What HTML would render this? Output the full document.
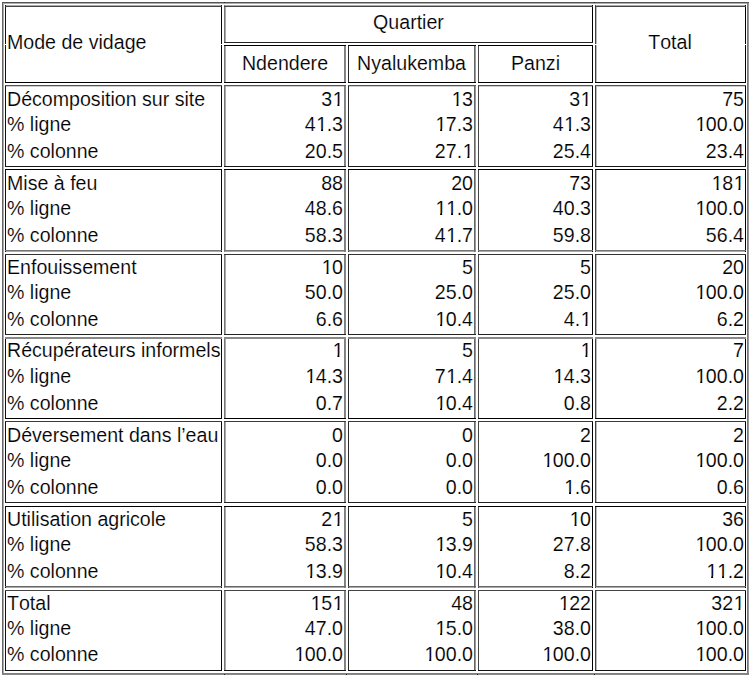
<!DOCTYPE html>
<html><head><meta charset="utf-8"><style>
html,body{margin:0;padding:0;background:#fff;width:750px;height:676px;overflow:hidden;position:relative}
.l{position:absolute}
.t{position:absolute;font-family:"Liberation Sans",sans-serif;font-size:19.6px;line-height:normal;color:#000;white-space:pre;font-kerning:none;-webkit-text-stroke:0.15px #fff}
.c{width:300px;text-align:center}
.one{position:relative;color:transparent}
.one::before{content:'1';position:absolute;left:0.03em;top:0;color:#000;clip-path:polygon(0 0,100% 0,100% 0.79em,0.345em 0.79em,0.345em 100%,0.24em 100%,0.24em 0.79em,0 0.79em)}
</style></head><body>
<div class="l" style="left:2px;top:3px;width:747px;height:1px;background:#aaa"></div>
<div class="l" style="left:5px;top:5px;width:217px;height:1px;background:#aaa"></div>
<div class="l" style="left:224px;top:5px;width:369px;height:1px;background:#aaa"></div>
<div class="l" style="left:595px;top:5px;width:151px;height:1px;background:#aaa"></div>
<div class="l" style="left:5px;top:86px;width:217px;height:1px;background:#ccc"></div>
<div class="l" style="left:224px;top:86px;width:122px;height:1px;background:#ccc"></div>
<div class="l" style="left:348px;top:86px;width:128px;height:1px;background:#ccc"></div>
<div class="l" style="left:478px;top:86px;width:115px;height:1px;background:#ccc"></div>
<div class="l" style="left:595px;top:86px;width:151px;height:1px;background:#ccc"></div>
<div class="l" style="left:5px;top:251px;width:217px;height:1px;background:#aaa"></div>
<div class="l" style="left:224px;top:251px;width:122px;height:1px;background:#aaa"></div>
<div class="l" style="left:348px;top:251px;width:128px;height:1px;background:#aaa"></div>
<div class="l" style="left:478px;top:251px;width:115px;height:1px;background:#aaa"></div>
<div class="l" style="left:595px;top:251px;width:151px;height:1px;background:#aaa"></div>
<div class="l" style="left:5px;top:587px;width:217px;height:1px;background:#aaa"></div>
<div class="l" style="left:224px;top:587px;width:122px;height:1px;background:#aaa"></div>
<div class="l" style="left:348px;top:587px;width:128px;height:1px;background:#aaa"></div>
<div class="l" style="left:478px;top:587px;width:115px;height:1px;background:#aaa"></div>
<div class="l" style="left:595px;top:587px;width:151px;height:1px;background:#aaa"></div>
<div class="l" style="left:3px;top:2px;width:1px;height:673px;background:#aaa"></div>
<div class="l" style="left:748px;top:2px;width:1px;height:673px;background:#999"></div>
<div class="l" style="left:225px;top:5px;width:1px;height:38px;background:#aaa"></div>
<div class="l" style="left:225px;top:45px;width:1px;height:38px;background:#aaa"></div>
<div class="l" style="left:475px;top:45px;width:1px;height:38px;background:#999"></div>
<div class="l" style="left:596px;top:5px;width:1px;height:78px;background:#bbb"></div>
<div class="l" style="left:225px;top:85px;width:1px;height:82px;background:#aaa"></div>
<div class="l" style="left:475px;top:85px;width:1px;height:82px;background:#999"></div>
<div class="l" style="left:596px;top:85px;width:1px;height:82px;background:#bbb"></div>
<div class="l" style="left:225px;top:169px;width:1px;height:83px;background:#aaa"></div>
<div class="l" style="left:475px;top:169px;width:1px;height:83px;background:#999"></div>
<div class="l" style="left:596px;top:169px;width:1px;height:83px;background:#bbb"></div>
<div class="l" style="left:225px;top:254px;width:1px;height:81px;background:#aaa"></div>
<div class="l" style="left:475px;top:254px;width:1px;height:81px;background:#999"></div>
<div class="l" style="left:596px;top:254px;width:1px;height:81px;background:#bbb"></div>
<div class="l" style="left:225px;top:337px;width:1px;height:82px;background:#aaa"></div>
<div class="l" style="left:475px;top:337px;width:1px;height:82px;background:#999"></div>
<div class="l" style="left:596px;top:337px;width:1px;height:82px;background:#bbb"></div>
<div class="l" style="left:225px;top:421px;width:1px;height:82px;background:#aaa"></div>
<div class="l" style="left:475px;top:421px;width:1px;height:82px;background:#999"></div>
<div class="l" style="left:596px;top:421px;width:1px;height:82px;background:#bbb"></div>
<div class="l" style="left:225px;top:506px;width:1px;height:82px;background:#aaa"></div>
<div class="l" style="left:475px;top:506px;width:1px;height:82px;background:#999"></div>
<div class="l" style="left:596px;top:506px;width:1px;height:82px;background:#bbb"></div>
<div class="l" style="left:225px;top:590px;width:1px;height:81px;background:#aaa"></div>
<div class="l" style="left:475px;top:590px;width:1px;height:81px;background:#999"></div>
<div class="l" style="left:596px;top:590px;width:1px;height:81px;background:#bbb"></div>
<div class="l" style="left:2px;top:2px;width:1px;height:673px;background:#666"></div>
<div class="l" style="left:747px;top:2px;width:1px;height:673px;background:#777"></div>
<div class="l" style="left:5px;top:5px;width:1px;height:78px;background:#111"></div>
<div class="l" style="left:221px;top:5px;width:1px;height:78px;background:#080808"></div>
<div class="l" style="left:224px;top:5px;width:1px;height:38px;background:#777"></div>
<div class="l" style="left:592px;top:5px;width:1px;height:38px;background:#000"></div>
<div class="l" style="left:224px;top:45px;width:1px;height:38px;background:#777"></div>
<div class="l" style="left:344px;top:45px;width:1px;height:38px;background:#808080"></div>
<div class="l" style="left:345px;top:45px;width:1px;height:38px;background:#888"></div>
<div class="l" style="left:348px;top:45px;width:1px;height:38px;background:#2a2a2a"></div>
<div class="l" style="left:474px;top:45px;width:1px;height:38px;background:#666"></div>
<div class="l" style="left:478px;top:45px;width:1px;height:38px;background:#444"></div>
<div class="l" style="left:592px;top:45px;width:1px;height:38px;background:#000"></div>
<div class="l" style="left:595px;top:5px;width:1px;height:78px;background:#444"></div>
<div class="l" style="left:745px;top:5px;width:1px;height:78px;background:#000"></div>
<div class="l" style="left:5px;top:85px;width:1px;height:82px;background:#111"></div>
<div class="l" style="left:221px;top:85px;width:1px;height:82px;background:#080808"></div>
<div class="l" style="left:224px;top:85px;width:1px;height:82px;background:#777"></div>
<div class="l" style="left:344px;top:85px;width:1px;height:82px;background:#808080"></div>
<div class="l" style="left:345px;top:85px;width:1px;height:82px;background:#888"></div>
<div class="l" style="left:348px;top:85px;width:1px;height:82px;background:#2a2a2a"></div>
<div class="l" style="left:474px;top:85px;width:1px;height:82px;background:#666"></div>
<div class="l" style="left:478px;top:85px;width:1px;height:82px;background:#444"></div>
<div class="l" style="left:592px;top:85px;width:1px;height:82px;background:#000"></div>
<div class="l" style="left:595px;top:85px;width:1px;height:82px;background:#444"></div>
<div class="l" style="left:745px;top:85px;width:1px;height:82px;background:#000"></div>
<div class="l" style="left:5px;top:169px;width:1px;height:83px;background:#111"></div>
<div class="l" style="left:221px;top:169px;width:1px;height:83px;background:#080808"></div>
<div class="l" style="left:224px;top:169px;width:1px;height:83px;background:#777"></div>
<div class="l" style="left:344px;top:169px;width:1px;height:83px;background:#808080"></div>
<div class="l" style="left:345px;top:169px;width:1px;height:83px;background:#888"></div>
<div class="l" style="left:348px;top:169px;width:1px;height:83px;background:#2a2a2a"></div>
<div class="l" style="left:474px;top:169px;width:1px;height:83px;background:#666"></div>
<div class="l" style="left:478px;top:169px;width:1px;height:83px;background:#444"></div>
<div class="l" style="left:592px;top:169px;width:1px;height:83px;background:#000"></div>
<div class="l" style="left:595px;top:169px;width:1px;height:83px;background:#444"></div>
<div class="l" style="left:745px;top:169px;width:1px;height:83px;background:#000"></div>
<div class="l" style="left:5px;top:254px;width:1px;height:81px;background:#111"></div>
<div class="l" style="left:221px;top:254px;width:1px;height:81px;background:#080808"></div>
<div class="l" style="left:224px;top:254px;width:1px;height:81px;background:#777"></div>
<div class="l" style="left:344px;top:254px;width:1px;height:81px;background:#808080"></div>
<div class="l" style="left:345px;top:254px;width:1px;height:81px;background:#888"></div>
<div class="l" style="left:348px;top:254px;width:1px;height:81px;background:#2a2a2a"></div>
<div class="l" style="left:474px;top:254px;width:1px;height:81px;background:#666"></div>
<div class="l" style="left:478px;top:254px;width:1px;height:81px;background:#444"></div>
<div class="l" style="left:592px;top:254px;width:1px;height:81px;background:#000"></div>
<div class="l" style="left:595px;top:254px;width:1px;height:81px;background:#444"></div>
<div class="l" style="left:745px;top:254px;width:1px;height:81px;background:#000"></div>
<div class="l" style="left:5px;top:337px;width:1px;height:82px;background:#111"></div>
<div class="l" style="left:221px;top:337px;width:1px;height:82px;background:#080808"></div>
<div class="l" style="left:224px;top:337px;width:1px;height:82px;background:#777"></div>
<div class="l" style="left:344px;top:337px;width:1px;height:82px;background:#808080"></div>
<div class="l" style="left:345px;top:337px;width:1px;height:82px;background:#888"></div>
<div class="l" style="left:348px;top:337px;width:1px;height:82px;background:#2a2a2a"></div>
<div class="l" style="left:474px;top:337px;width:1px;height:82px;background:#666"></div>
<div class="l" style="left:478px;top:337px;width:1px;height:82px;background:#444"></div>
<div class="l" style="left:592px;top:337px;width:1px;height:82px;background:#000"></div>
<div class="l" style="left:595px;top:337px;width:1px;height:82px;background:#444"></div>
<div class="l" style="left:745px;top:337px;width:1px;height:82px;background:#000"></div>
<div class="l" style="left:5px;top:421px;width:1px;height:82px;background:#111"></div>
<div class="l" style="left:221px;top:421px;width:1px;height:82px;background:#080808"></div>
<div class="l" style="left:224px;top:421px;width:1px;height:82px;background:#777"></div>
<div class="l" style="left:344px;top:421px;width:1px;height:82px;background:#808080"></div>
<div class="l" style="left:345px;top:421px;width:1px;height:82px;background:#888"></div>
<div class="l" style="left:348px;top:421px;width:1px;height:82px;background:#2a2a2a"></div>
<div class="l" style="left:474px;top:421px;width:1px;height:82px;background:#666"></div>
<div class="l" style="left:478px;top:421px;width:1px;height:82px;background:#444"></div>
<div class="l" style="left:592px;top:421px;width:1px;height:82px;background:#000"></div>
<div class="l" style="left:595px;top:421px;width:1px;height:82px;background:#444"></div>
<div class="l" style="left:745px;top:421px;width:1px;height:82px;background:#000"></div>
<div class="l" style="left:5px;top:506px;width:1px;height:82px;background:#111"></div>
<div class="l" style="left:221px;top:506px;width:1px;height:82px;background:#080808"></div>
<div class="l" style="left:224px;top:506px;width:1px;height:82px;background:#777"></div>
<div class="l" style="left:344px;top:506px;width:1px;height:82px;background:#808080"></div>
<div class="l" style="left:345px;top:506px;width:1px;height:82px;background:#888"></div>
<div class="l" style="left:348px;top:506px;width:1px;height:82px;background:#2a2a2a"></div>
<div class="l" style="left:474px;top:506px;width:1px;height:82px;background:#666"></div>
<div class="l" style="left:478px;top:506px;width:1px;height:82px;background:#444"></div>
<div class="l" style="left:592px;top:506px;width:1px;height:82px;background:#000"></div>
<div class="l" style="left:595px;top:506px;width:1px;height:82px;background:#444"></div>
<div class="l" style="left:745px;top:506px;width:1px;height:82px;background:#000"></div>
<div class="l" style="left:5px;top:590px;width:1px;height:81px;background:#111"></div>
<div class="l" style="left:221px;top:590px;width:1px;height:81px;background:#080808"></div>
<div class="l" style="left:224px;top:590px;width:1px;height:81px;background:#777"></div>
<div class="l" style="left:344px;top:590px;width:1px;height:81px;background:#808080"></div>
<div class="l" style="left:345px;top:590px;width:1px;height:81px;background:#888"></div>
<div class="l" style="left:348px;top:590px;width:1px;height:81px;background:#2a2a2a"></div>
<div class="l" style="left:474px;top:590px;width:1px;height:81px;background:#666"></div>
<div class="l" style="left:478px;top:590px;width:1px;height:81px;background:#444"></div>
<div class="l" style="left:592px;top:590px;width:1px;height:81px;background:#000"></div>
<div class="l" style="left:595px;top:590px;width:1px;height:81px;background:#444"></div>
<div class="l" style="left:745px;top:590px;width:1px;height:81px;background:#000"></div>
<div class="l" style="left:2px;top:2px;width:747px;height:1px;background:#555"></div>
<div class="l" style="left:2px;top:673px;width:747px;height:1px;background:#808080"></div>
<div class="l" style="left:2px;top:674px;width:747px;height:1px;background:#888"></div>
<div class="l" style="left:5px;top:6px;width:217px;height:1px;background:#444"></div>
<div class="l" style="left:5px;top:82px;width:217px;height:1px;background:#000"></div>
<div class="l" style="left:224px;top:6px;width:369px;height:1px;background:#444"></div>
<div class="l" style="left:224px;top:42px;width:369px;height:1px;background:#222"></div>
<div class="l" style="left:224px;top:45px;width:122px;height:1px;background:#000"></div>
<div class="l" style="left:224px;top:82px;width:122px;height:1px;background:#000"></div>
<div class="l" style="left:348px;top:45px;width:128px;height:1px;background:#000"></div>
<div class="l" style="left:348px;top:82px;width:128px;height:1px;background:#000"></div>
<div class="l" style="left:478px;top:45px;width:115px;height:1px;background:#000"></div>
<div class="l" style="left:478px;top:82px;width:115px;height:1px;background:#000"></div>
<div class="l" style="left:595px;top:6px;width:151px;height:1px;background:#444"></div>
<div class="l" style="left:595px;top:82px;width:151px;height:1px;background:#000"></div>
<div class="l" style="left:5px;top:85px;width:217px;height:1px;background:#555"></div>
<div class="l" style="left:5px;top:166px;width:217px;height:1px;background:#181818"></div>
<div class="l" style="left:224px;top:85px;width:122px;height:1px;background:#555"></div>
<div class="l" style="left:224px;top:166px;width:122px;height:1px;background:#181818"></div>
<div class="l" style="left:348px;top:85px;width:128px;height:1px;background:#555"></div>
<div class="l" style="left:348px;top:166px;width:128px;height:1px;background:#181818"></div>
<div class="l" style="left:478px;top:85px;width:115px;height:1px;background:#555"></div>
<div class="l" style="left:478px;top:166px;width:115px;height:1px;background:#181818"></div>
<div class="l" style="left:595px;top:85px;width:151px;height:1px;background:#555"></div>
<div class="l" style="left:595px;top:166px;width:151px;height:1px;background:#181818"></div>
<div class="l" style="left:5px;top:169px;width:217px;height:1px;background:#000"></div>
<div class="l" style="left:5px;top:250px;width:217px;height:1px;background:#777"></div>
<div class="l" style="left:224px;top:169px;width:122px;height:1px;background:#000"></div>
<div class="l" style="left:224px;top:250px;width:122px;height:1px;background:#777"></div>
<div class="l" style="left:348px;top:169px;width:128px;height:1px;background:#000"></div>
<div class="l" style="left:348px;top:250px;width:128px;height:1px;background:#777"></div>
<div class="l" style="left:478px;top:169px;width:115px;height:1px;background:#000"></div>
<div class="l" style="left:478px;top:250px;width:115px;height:1px;background:#777"></div>
<div class="l" style="left:595px;top:169px;width:151px;height:1px;background:#000"></div>
<div class="l" style="left:595px;top:250px;width:151px;height:1px;background:#777"></div>
<div class="l" style="left:5px;top:254px;width:217px;height:1px;background:#333"></div>
<div class="l" style="left:5px;top:334px;width:217px;height:1px;background:#222"></div>
<div class="l" style="left:224px;top:254px;width:122px;height:1px;background:#333"></div>
<div class="l" style="left:224px;top:334px;width:122px;height:1px;background:#222"></div>
<div class="l" style="left:348px;top:254px;width:128px;height:1px;background:#333"></div>
<div class="l" style="left:348px;top:334px;width:128px;height:1px;background:#222"></div>
<div class="l" style="left:478px;top:254px;width:115px;height:1px;background:#333"></div>
<div class="l" style="left:478px;top:334px;width:115px;height:1px;background:#222"></div>
<div class="l" style="left:595px;top:254px;width:151px;height:1px;background:#333"></div>
<div class="l" style="left:595px;top:334px;width:151px;height:1px;background:#222"></div>
<div class="l" style="left:5px;top:337px;width:217px;height:1px;background:#888"></div>
<div class="l" style="left:5px;top:338px;width:217px;height:1px;background:#888"></div>
<div class="l" style="left:5px;top:418px;width:217px;height:1px;background:#000"></div>
<div class="l" style="left:224px;top:337px;width:122px;height:1px;background:#888"></div>
<div class="l" style="left:224px;top:338px;width:122px;height:1px;background:#888"></div>
<div class="l" style="left:224px;top:418px;width:122px;height:1px;background:#000"></div>
<div class="l" style="left:348px;top:337px;width:128px;height:1px;background:#888"></div>
<div class="l" style="left:348px;top:338px;width:128px;height:1px;background:#888"></div>
<div class="l" style="left:348px;top:418px;width:128px;height:1px;background:#000"></div>
<div class="l" style="left:478px;top:337px;width:115px;height:1px;background:#888"></div>
<div class="l" style="left:478px;top:338px;width:115px;height:1px;background:#888"></div>
<div class="l" style="left:478px;top:418px;width:115px;height:1px;background:#000"></div>
<div class="l" style="left:595px;top:337px;width:151px;height:1px;background:#888"></div>
<div class="l" style="left:595px;top:338px;width:151px;height:1px;background:#888"></div>
<div class="l" style="left:595px;top:418px;width:151px;height:1px;background:#000"></div>
<div class="l" style="left:5px;top:421px;width:217px;height:1px;background:#3a3a3a"></div>
<div class="l" style="left:5px;top:502px;width:217px;height:1px;background:#222"></div>
<div class="l" style="left:224px;top:421px;width:122px;height:1px;background:#3a3a3a"></div>
<div class="l" style="left:224px;top:502px;width:122px;height:1px;background:#222"></div>
<div class="l" style="left:348px;top:421px;width:128px;height:1px;background:#3a3a3a"></div>
<div class="l" style="left:348px;top:502px;width:128px;height:1px;background:#222"></div>
<div class="l" style="left:478px;top:421px;width:115px;height:1px;background:#3a3a3a"></div>
<div class="l" style="left:478px;top:502px;width:115px;height:1px;background:#222"></div>
<div class="l" style="left:595px;top:421px;width:151px;height:1px;background:#3a3a3a"></div>
<div class="l" style="left:595px;top:502px;width:151px;height:1px;background:#222"></div>
<div class="l" style="left:5px;top:506px;width:217px;height:1px;background:#000"></div>
<div class="l" style="left:5px;top:586px;width:217px;height:1px;background:#666"></div>
<div class="l" style="left:224px;top:506px;width:122px;height:1px;background:#000"></div>
<div class="l" style="left:224px;top:586px;width:122px;height:1px;background:#666"></div>
<div class="l" style="left:348px;top:506px;width:128px;height:1px;background:#000"></div>
<div class="l" style="left:348px;top:586px;width:128px;height:1px;background:#666"></div>
<div class="l" style="left:478px;top:506px;width:115px;height:1px;background:#000"></div>
<div class="l" style="left:478px;top:586px;width:115px;height:1px;background:#666"></div>
<div class="l" style="left:595px;top:506px;width:151px;height:1px;background:#000"></div>
<div class="l" style="left:595px;top:586px;width:151px;height:1px;background:#666"></div>
<div class="l" style="left:5px;top:590px;width:217px;height:1px;background:#444"></div>
<div class="l" style="left:5px;top:670px;width:217px;height:1px;background:#111"></div>
<div class="l" style="left:224px;top:590px;width:122px;height:1px;background:#444"></div>
<div class="l" style="left:224px;top:670px;width:122px;height:1px;background:#111"></div>
<div class="l" style="left:348px;top:590px;width:128px;height:1px;background:#444"></div>
<div class="l" style="left:348px;top:670px;width:128px;height:1px;background:#111"></div>
<div class="l" style="left:478px;top:590px;width:115px;height:1px;background:#444"></div>
<div class="l" style="left:478px;top:670px;width:115px;height:1px;background:#111"></div>
<div class="l" style="left:595px;top:590px;width:151px;height:1px;background:#444"></div>
<div class="l" style="left:595px;top:670px;width:151px;height:1px;background:#111"></div>
<div class="l" style="left:224px;top:2px;width:1px;height:1px;background:#222"></div>
<div class="l" style="left:594px;top:2px;width:1px;height:1px;background:#222"></div>
<div class="l" style="left:224px;top:674px;width:1px;height:1px;background:#222"></div>
<div class="l" style="left:346px;top:674px;width:1px;height:1px;background:#222"></div>
<div class="l" style="left:477px;top:674px;width:1px;height:1px;background:#222"></div>
<div class="l" style="left:594px;top:674px;width:1px;height:1px;background:#222"></div>
<div class="l" style="left:5px;top:44px;width:1px;height:1px;background:#fff"></div>
<div class="l" style="left:221px;top:44px;width:1px;height:1px;background:#fff"></div>
<div class="l" style="left:595px;top:44px;width:1px;height:1px;background:#fff"></div>
<div class="l" style="left:596px;top:44px;width:1px;height:1px;background:#fff"></div>
<div class="l" style="left:745px;top:44px;width:1px;height:1px;background:#fff"></div>
<div class="t" style="left:7px;top:31.26px">Mode de vidage</div>
<div class="t c" style="left:258.5px;top:11.26px">Quartier</div>
<div class="t c" style="left:135px;top:52.26px">Ndendere</div>
<div class="t c" style="left:261.5px;top:52.26px">Nyalukemba</div>
<div class="t c" style="left:385.5px;top:52.26px">Panzi</div>
<div class="t c" style="left:520px;top:31.26px">Total</div>
<div class="t" style="left:7px;top:88.26px">Décomposition sur site</div>
<div class="t" style="right:407px;top:88.26px">3<span class="one">1</span></div>
<div class="t" style="right:277px;top:88.26px"><span class="one">1</span>3</div>
<div class="t" style="right:159px;top:88.26px">3<span class="one">1</span></div>
<div class="t" style="right:6px;top:88.26px">75</div>
<div class="t" style="left:7px;top:113.26px">% ligne</div>
<div class="t" style="right:407px;top:113.26px">4<span class="one">1</span>.3</div>
<div class="t" style="right:277px;top:113.26px"><span class="one">1</span>7.3</div>
<div class="t" style="right:159px;top:113.26px">4<span class="one">1</span>.3</div>
<div class="t" style="right:6px;top:113.26px"><span class="one">1</span>00.0</div>
<div class="t" style="left:7px;top:140.26px">% colonne</div>
<div class="t" style="right:407px;top:140.26px">20.5</div>
<div class="t" style="right:277px;top:140.26px">27.<span class="one">1</span></div>
<div class="t" style="right:159px;top:140.26px">25.4</div>
<div class="t" style="right:6px;top:140.26px">23.4</div>
<div class="t" style="left:7px;top:172.26px">Mise à feu</div>
<div class="t" style="right:407px;top:172.26px">88</div>
<div class="t" style="right:277px;top:172.26px">20</div>
<div class="t" style="right:159px;top:172.26px">73</div>
<div class="t" style="right:6px;top:172.26px"><span class="one">1</span>8<span class="one">1</span></div>
<div class="t" style="left:7px;top:197.26px">% ligne</div>
<div class="t" style="right:407px;top:197.26px">48.6</div>
<div class="t" style="right:277px;top:197.26px"><span class="one">1</span><span class="one">1</span>.0</div>
<div class="t" style="right:159px;top:197.26px">40.3</div>
<div class="t" style="right:6px;top:197.26px"><span class="one">1</span>00.0</div>
<div class="t" style="left:7px;top:224.26px">% colonne</div>
<div class="t" style="right:407px;top:224.26px">58.3</div>
<div class="t" style="right:277px;top:224.26px">4<span class="one">1</span>.7</div>
<div class="t" style="right:159px;top:224.26px">59.8</div>
<div class="t" style="right:6px;top:224.26px">56.4</div>
<div class="t" style="left:7px;top:256.26px">Enfouissement</div>
<div class="t" style="right:407px;top:256.26px"><span class="one">1</span>0</div>
<div class="t" style="right:277px;top:256.26px">5</div>
<div class="t" style="right:159px;top:256.26px">5</div>
<div class="t" style="right:6px;top:256.26px">20</div>
<div class="t" style="left:7px;top:281.26px">% ligne</div>
<div class="t" style="right:407px;top:281.26px">50.0</div>
<div class="t" style="right:277px;top:281.26px">25.0</div>
<div class="t" style="right:159px;top:281.26px">25.0</div>
<div class="t" style="right:6px;top:281.26px"><span class="one">1</span>00.0</div>
<div class="t" style="left:7px;top:308.26px">% colonne</div>
<div class="t" style="right:407px;top:308.26px">6.6</div>
<div class="t" style="right:277px;top:308.26px"><span class="one">1</span>0.4</div>
<div class="t" style="right:159px;top:308.26px">4.<span class="one">1</span></div>
<div class="t" style="right:6px;top:308.26px">6.2</div>
<div class="t" style="left:7px;top:339.26px">Récupérateurs informels</div>
<div class="t" style="right:407px;top:339.26px"><span class="one">1</span></div>
<div class="t" style="right:277px;top:339.26px">5</div>
<div class="t" style="right:159px;top:339.26px"><span class="one">1</span></div>
<div class="t" style="right:6px;top:339.26px">7</div>
<div class="t" style="left:7px;top:365.26px">% ligne</div>
<div class="t" style="right:407px;top:365.26px"><span class="one">1</span>4.3</div>
<div class="t" style="right:277px;top:365.26px">7<span class="one">1</span>.4</div>
<div class="t" style="right:159px;top:365.26px"><span class="one">1</span>4.3</div>
<div class="t" style="right:6px;top:365.26px"><span class="one">1</span>00.0</div>
<div class="t" style="left:7px;top:392.26px">% colonne</div>
<div class="t" style="right:407px;top:392.26px">0.7</div>
<div class="t" style="right:277px;top:392.26px"><span class="one">1</span>0.4</div>
<div class="t" style="right:159px;top:392.26px">0.8</div>
<div class="t" style="right:6px;top:392.26px">2.2</div>
<div class="t" style="left:7px;top:424.26px">Déversement dans l’eau</div>
<div class="t" style="right:407px;top:424.26px">0</div>
<div class="t" style="right:277px;top:424.26px">0</div>
<div class="t" style="right:159px;top:424.26px">2</div>
<div class="t" style="right:6px;top:424.26px">2</div>
<div class="t" style="left:7px;top:449.26px">% ligne</div>
<div class="t" style="right:407px;top:449.26px">0.0</div>
<div class="t" style="right:277px;top:449.26px">0.0</div>
<div class="t" style="right:159px;top:449.26px"><span class="one">1</span>00.0</div>
<div class="t" style="right:6px;top:449.26px"><span class="one">1</span>00.0</div>
<div class="t" style="left:7px;top:476.26px">% colonne</div>
<div class="t" style="right:407px;top:476.26px">0.0</div>
<div class="t" style="right:277px;top:476.26px">0.0</div>
<div class="t" style="right:159px;top:476.26px"><span class="one">1</span>.6</div>
<div class="t" style="right:6px;top:476.26px">0.6</div>
<div class="t" style="left:7px;top:508.26px">Utilisation agricole</div>
<div class="t" style="right:407px;top:508.26px">2<span class="one">1</span></div>
<div class="t" style="right:277px;top:508.26px">5</div>
<div class="t" style="right:159px;top:508.26px"><span class="one">1</span>0</div>
<div class="t" style="right:6px;top:508.26px">36</div>
<div class="t" style="left:7px;top:533.26px">% ligne</div>
<div class="t" style="right:407px;top:533.26px">58.3</div>
<div class="t" style="right:277px;top:533.26px"><span class="one">1</span>3.9</div>
<div class="t" style="right:159px;top:533.26px">27.8</div>
<div class="t" style="right:6px;top:533.26px"><span class="one">1</span>00.0</div>
<div class="t" style="left:7px;top:560.26px">% colonne</div>
<div class="t" style="right:407px;top:560.26px"><span class="one">1</span>3.9</div>
<div class="t" style="right:277px;top:560.26px"><span class="one">1</span>0.4</div>
<div class="t" style="right:159px;top:560.26px">8.2</div>
<div class="t" style="right:6px;top:560.26px"><span class="one">1</span><span class="one">1</span>.2</div>
<div class="t" style="left:7px;top:592.26px">Total</div>
<div class="t" style="right:407px;top:592.26px"><span class="one">1</span>5<span class="one">1</span></div>
<div class="t" style="right:277px;top:592.26px">48</div>
<div class="t" style="right:159px;top:592.26px"><span class="one">1</span>22</div>
<div class="t" style="right:6px;top:592.26px">32<span class="one">1</span></div>
<div class="t" style="left:7px;top:617.26px">% ligne</div>
<div class="t" style="right:407px;top:617.26px">47.0</div>
<div class="t" style="right:277px;top:617.26px"><span class="one">1</span>5.0</div>
<div class="t" style="right:159px;top:617.26px">38.0</div>
<div class="t" style="right:6px;top:617.26px"><span class="one">1</span>00.0</div>
<div class="t" style="left:7px;top:643.26px">% colonne</div>
<div class="t" style="right:407px;top:643.26px"><span class="one">1</span>00.0</div>
<div class="t" style="right:277px;top:643.26px"><span class="one">1</span>00.0</div>
<div class="t" style="right:159px;top:643.26px"><span class="one">1</span>00.0</div>
<div class="t" style="right:6px;top:643.26px"><span class="one">1</span>00.0</div>
</body></html>
